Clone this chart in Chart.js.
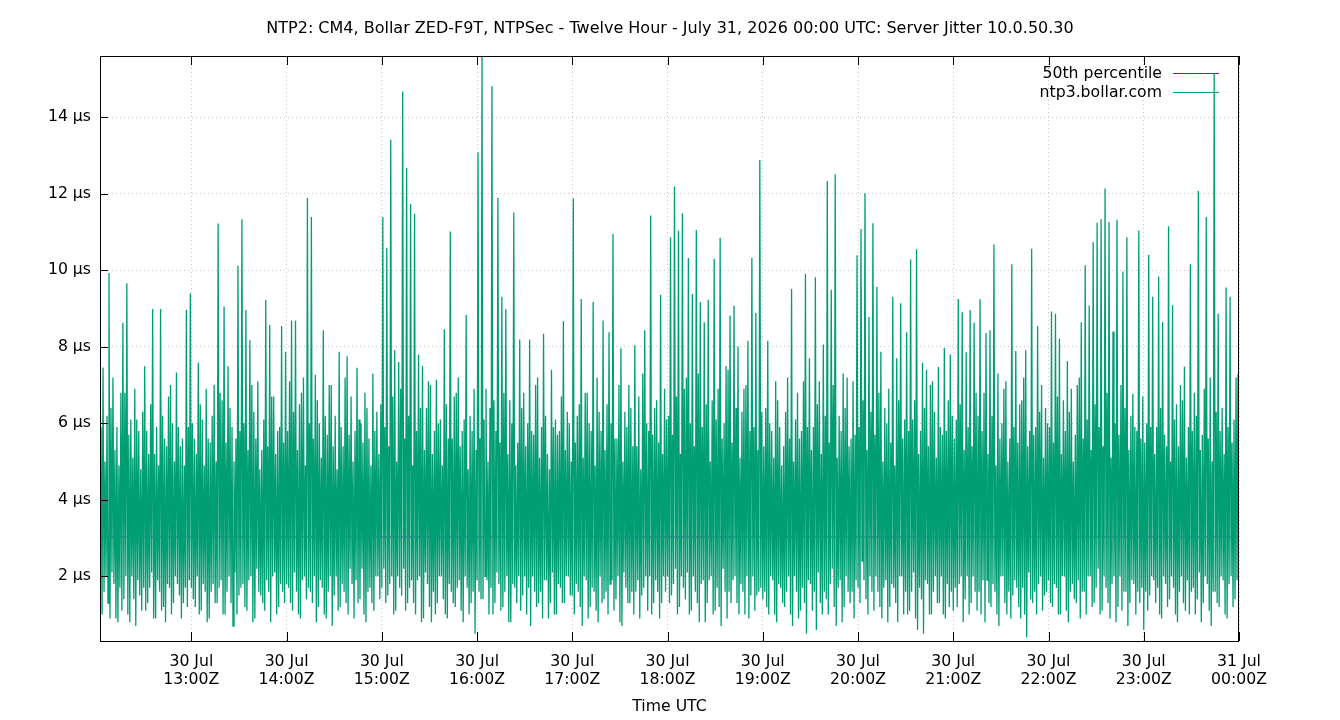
<!DOCTYPE html>
<html>
<head>
<meta charset="utf-8">
<script src="https://cdn.jsdelivr.net/npm/chart.js@4/dist/chart.umd.min.js"></script>
<style>
html,body{margin:0;padding:0;background:#fff;}
#wrap{width:1340px;height:720px;}
</style>
</head>
<body>
<div id="wrap"><canvas id="c" width="1340" height="720"></canvas></div>
<script>
const chartTitle = 'NTP2: CM4, Bollar ZED-F9T, NTPSec - Twelve Hour - July 31, 2026 00:00 UTC: Server Jitter 10.0.50.30';
const seriesLabel = 'ntp3.bollar.com';
const medianLabel = '50th percentile';
const medianJitter = 3.03;            // µs
const xAxisTitle = 'Time UTC';

// jitter samples (µs), one array per UTC hour, 96 samples per hour
const samplesPerHour = 96;
const hourStarts = [12, 13, 14, 15, 16, 17, 18, 19, 20, 21, 22, 23];
const h12 = [2.3,5.7,1.5,6.0,1.3,5.9,1.0,7.46,1.6,5.0,2.0,6.2,1.3,9.93,0.9,6.4,2.1,7.2,1.8,5.3,0.9,5.9,0.8,4.9,1.7,6.8,1.1,8.63,1.4,6.8,2.0,9.66,1.0,5.7,0.8,6.1,2.0,5.1,1.4,6.9,0.7,6.1,1.9,5.8,1.5,4.8,1.1,6.3,1.7,7.49,1.1,5.8,1.3,5.2,1.7,6.5,2.1,8.99,0.9,5.2,0.9,5.9,1.9,4.9,1.6,8.99,1.1,6.2,1.2,5.6,0.8,5.4,1.8,6.7,1.7,7.0,1.0,6.0,1.3,5.0,2.0,7.33,1.8,5.9,1.5,5.4,0.9,5.6,1.3,4.9,1.7,8.96,1.2,5.9,1.9,9.39];
const h13 = [1.7,6.0,1.4,5.6,1.2,5.2,2.0,7.58,1.0,6.5,1.1,6.1,1.8,4.9,1.6,6.9,0.8,5.6,0.9,5.5,1.6,6.2,1.8,7.01,1.3,5.0,1.3,11.22,1.7,6.8,1.9,6.6,1.0,9.05,1.0,5.5,1.6,7.49,2.0,6.4,1.3,5.9,0.7,5.0,2.1,5.6,1.0,10.12,1.5,5.8,1.7,11.33,1.8,6.0,1.2,8.96,1.1,5.3,1.9,8.17,2.0,7.0,0.8,6.3,0.9,5.6,2.2,7.1,1.6,4.8,1.5,5.3,1.3,6.1,1.1,9.22,1.9,5.4,1.6,8.57,0.8,6.7,2.0,6.7,2.1,5.2,1.0,5.8,1.2,5.9,1.8,8.54,1.6,5.5,1.3,7.87];
const h14 = [1.8,5.8,1.7,7.1,1.3,8.69,1.1,6.3,2.1,8.69,1.6,5.3,1.0,6.5,0.9,6.8,1.9,7.2,2.0,4.9,1.4,11.89,1.7,6.0,1.6,11.39,1.3,5.6,2.0,7.27,0.8,6.6,1.2,6.0,1.9,5.1,1.7,8.43,1.0,6.2,0.9,5.7,1.6,7.0,2.0,7.0,0.7,5.4,1.5,6.2,2.0,4.8,1.1,7.87,1.2,5.9,1.8,5.4,1.6,7.2,1.3,7.75,1.0,5.7,2.2,6.7,1.8,5.0,0.9,5.8,1.9,7.45,1.3,6.1,1.4,6.0,2.2,5.5,1.0,6.8,0.8,6.4,1.6,5.6,1.7,4.9,1.3,7.3,1.1,5.8,2.0,6.3,2.0,5.2,1.4,6.5];
const h15 = [1.7,11.39,2.2,5.9,1.3,10.59,1.5,5.4,1.8,13.41,2.0,6.7,1.0,7.91,1.1,5.0,2.0,7.6,1.7,6.9,1.5,14.67,2.2,5.6,1.1,12.67,1.3,6.2,1.7,11.73,1.9,4.9,1.3,11.48,1.0,5.8,1.9,7.79,2.0,6.4,0.8,7.5,0.9,5.3,2.1,6.4,1.8,7.1,1.2,7.0,0.8,5.2,1.6,5.8,1.0,7.14,1.3,6.0,2.0,6.1,2.0,4.9,1.4,8.46,1.0,6.5,0.9,5.6,1.8,11.01,1.6,5.6,1.3,6.7,1.2,6.8,1.7,7.2,1.9,5.4,1.1,5.8,0.8,6.1,2.0,8.83,1.7,4.8,1.0,6.2,1.3,5.8,1.6,6.9,0.5,5.3];
const h16 = [1.9,13.08,1.6,5.6,1.4,15.6,1.4,6.1,2.0,6.9,1.9,5.0,1.0,6.4,1.7,14.81,1.0,6.6,1.3,5.8,2.1,11.89,1.8,5.5,1.1,9.31,1.2,6.8,1.6,8.99,2.0,5.2,0.8,6.6,0.8,6.0,1.8,11.51,1.7,4.9,1.3,5.5,2.0,8.19,1.1,6.4,1.5,6.8,2.0,5.4,1.0,6.0,1.7,8.19,0.7,5.8,2.0,5.7,1.6,7.0,1.2,7.2,1.3,5.1,1.6,5.9,0.9,8.34,1.9,6.2,1.9,5.2,0.9,4.8,1.3,7.4,2.1,5.9,1.0,6.1,1.0,5.7,1.8,5.8,1.7,6.7,1.3,8.67,1.3,5.3,2.0,6.3,2.0,6.0,1.5,5.0];
const h17 = [1.5,11.88,1.0,5.5,1.8,6.2,1.6,6.5,1.2,9.25,0.7,5.1,2.0,6.8,1.9,6.8,0.9,6.0,1.2,5.8,1.7,9.17,1.6,4.9,1.1,7.2,0.8,6.3,2.0,5.8,1.3,8.69,1.4,5.3,1.6,6.5,1.0,8.38,1.8,6.0,1.9,10.95,1.1,5.6,1.4,5.6,2.0,7.0,0.8,7.96,0.7,5.0,2.1,6.3,1.7,5.9,1.3,7.0,1.3,6.4,1.6,5.4,1.0,8.04,1.6,5.4,1.9,6.7,0.9,4.8,1.5,7.3,1.7,8.43,2.0,6.0,1.1,5.8,2.0,11.43,1.0,5.7,1.3,6.4,1.9,6.6,1.6,5.5,0.9,9.35,1.3,5.2,2.0,6.9,1.6,6.1];
const h18 = [2.0,6.2,1.3,10.86,1.5,5.7,1.8,12.19,2.2,6.7,1.0,11.03,1.2,5.2,2.0,11.49,1.7,6.9,1.4,7.2,2.1,10.32,1.0,6.0,1.1,9.38,2.0,5.4,1.6,11.05,1.3,7.3,0.8,9.17,1.8,5.9,1.9,8.64,0.8,6.5,1.3,9.23,1.9,5.0,2.0,6.6,1.0,10.3,1.1,6.1,1.7,6.9,1.2,10.85,0.7,5.6,2.2,6.0,1.6,7.5,0.9,7.4,1.6,8.82,1.3,5.5,1.9,9.07,2.0,6.4,1.3,8.01,1.0,5.1,1.8,6.3,1.6,6.9,1.0,7.0,2.0,8.16,0.9,5.8,1.5,10.33,2.0,5.9,1.1,8.88,1.5,5.3,1.6,12.88,1.7,6.3];
const h19 = [1.4,5.4,1.6,6.4,1.2,8.16,1.0,6.0,2.0,5.8,1.9,5.1,1.0,7.1,0.8,6.6,1.8,5.9,1.7,4.9,1.3,5.4,1.2,6.3,1.6,7.2,2.0,5.6,1.0,9.51,0.7,5.0,2.0,6.1,1.6,6.8,0.9,5.6,1.1,5.8,1.7,7.1,1.3,9.91,0.5,5.9,1.9,7.7,1.8,5.3,1.1,5.9,1.6,9.82,0.6,6.5,2.1,7.1,1.3,5.2,1.0,8.06,1.6,6.2,1.4,12.33,1.0,5.5,1.8,9.49,2.2,7.0,1.2,12.51,0.7,5.1,1.7,6.2,1.9,5.8,0.8,7.3,1.2,6.4,2.0,7.2,1.6,5.4,1.3,5.6,1.6,7.1,0.9,5.7,1.9,10.39];
const h20 = [1.7,5.9,1.3,11.08,2.4,6.6,1.9,12.01,1.4,5.3,1.0,8.78,2.0,6.3,1.6,11.23,1.1,5.7,2.0,9.56,1.6,6.8,1.2,7.87,0.9,5.0,1.7,6.4,1.9,6.0,0.8,6.9,1.2,5.5,1.8,9.31,1.7,4.9,1.3,7.7,0.8,6.6,2.0,9.14,2.0,5.6,1.0,6.1,1.6,8.38,1.0,5.8,1.1,10.28,1.6,6.1,2.1,6.6,0.9,10.55,0.6,5.2,1.7,5.8,1.4,7.58,0.5,6.4,1.9,7.4,1.8,5.4,1.0,7.0,1.0,7.1,1.6,6.3,2.0,5.1,1.3,7.47,1.3,5.9,2.0,5.7,1.0,7.97,0.9,5.8,1.8,6.6,1.2,7.8,1.6,6.2];
const h21 = [1.1,5.6,1.7,6.1,1.2,9.25,1.8,6.5,2.0,8.9,0.8,5.3,1.4,7.86,2.0,5.9,1.0,8.96,1.3,5.4,2.0,8.63,1.6,6.8,1.1,6.2,1.6,9.24,1.0,5.8,1.9,6.8,0.8,8.36,1.9,5.2,1.3,8.43,1.2,6.2,1.8,10.67,1.6,4.9,1.0,7.3,0.7,5.6,2.0,6.0,2.0,6.9,1.3,7.1,1.0,5.0,1.6,5.6,0.9,10.16,1.5,5.9,1.9,7.89,1.7,5.5,1.2,6.5,0.9,6.6,1.7,7.2,1.0,7.91,0.4,5.4,2.1,5.8,1.4,10.56,1.3,5.7,1.6,5.9,1.0,8.54,1.8,6.3,2.0,7.0,1.1,5.1,1.5,6.4,1.6,6.0];
const h22 = [1.9,5.9,1.3,8.92,1.2,5.5,1.8,8.86,1.7,6.7,1.0,8.21,1.0,5.2,2.0,6.6,2.0,5.8,1.1,7.63,0.8,6.3,1.6,6.9,1.8,5.0,1.4,5.7,1.3,7.0,1.9,7.2,0.9,8.64,1.6,5.6,1.6,10.13,1.0,6.1,2.0,9.08,2.0,5.3,1.2,10.73,1.3,6.5,1.7,11.24,2.2,5.9,1.0,11.33,1.1,5.4,2.0,12.14,1.7,6.8,1.3,11.26,0.9,5.1,1.8,8.4,2.0,6.0,0.8,11.32,1.2,5.7,2.0,7.0,1.1,9.97,1.6,6.4,1.6,10.86,0.7,5.3,1.3,6.2,1.9,6.77,1.8,5.9,1.0,5.8,1.6,11.04,1.3,5.6,1.7,6.7];
const h23 = [0.6,5.5,1.6,6.0,1.1,10.4,1.5,5.9,2.0,9.31,1.9,5.2,1.3,5.9,1.7,9.84,1.0,6.4,0.9,8.65,2.0,5.7,1.8,5.4,1.2,11.15,1.4,5.0,2.0,9.09,1.7,6.1,1.0,6.5,0.8,5.4,1.6,7.0,2.0,6.6,1.3,7.48,1.1,5.1,1.9,5.9,1.0,10.16,1.6,5.8,1.7,6.8,1.0,6.2,1.4,12.07,2.1,5.3,0.8,5.7,1.3,6.9,2.0,11.39,1.8,5.6,1.1,7.2,0.7,5.0,1.6,15.15,1.6,6.3,1.3,8.86,1.2,5.8,2.0,6.4,1.9,5.2,1.0,9.55,0.9,5.9,1.8,9.31,2.0,5.5,1.2,6.1,1.4,7.2,1.9,7.28,5.0];
const hourly = [h12, h13, h14, h15, h16, h17, h18, h19, h20, h21, h22, h23];

// axes
const xMinHour = 12.041;  // 12:02.5 UTC
const xMaxHour = 24;
const xTickHours = [13, 14, 15, 16, 17, 18, 19, 20, 21, 22, 23, 24];
const xTickDates = ['30 Jul','30 Jul','30 Jul','30 Jul','30 Jul','30 Jul','30 Jul','30 Jul','30 Jul','30 Jul','30 Jul','31 Jul'];
const xTickTimes = ['13:00Z','14:00Z','15:00Z','16:00Z','17:00Z','18:00Z','19:00Z','20:00Z','21:00Z','22:00Z','23:00Z','00:00Z'];
const yMin = 0.31, yMax = 15.6;
const yTicks = [2, 4, 6, 8, 10, 12, 14];
const yUnit = ' µs';

// build points from the arrays
const jitterPoints = [];
hourly.forEach((arr, k) => {
  arr.forEach((v, i) => jitterPoints.push({x: hourStarts[k] + i / samplesPerHour, y: v}));
});
const medianPoints = [{x: xMinHour, y: medianJitter}, {x: xMaxHour, y: medianJitter}];

const GREEN = '#009e73', PURPLE = '#9400d3';
const FONT = "'DejaVu Sans', sans-serif";
const FS = 15.7;

Chart.defaults.font.family = FONT;
Chart.defaults.font.size = FS;
Chart.defaults.color = '#000';

const framePlugin = {
  id: 'frame',
  afterDraw(chart) {
    const {ctx} = chart;
    ctx.save();
    ctx.font = '16px ' + FONT;
    ctx.fillStyle = '#000';
    ctx.textAlign = 'center';
    ctx.textBaseline = 'middle';
    ctx.fillText(chartTitle, 670, 29);
    ctx.restore();
  },
  afterDatasetsDraw(chart) {
    const {ctx, chartArea: a, scales: {x, y}} = chart;
    ctx.save();
    ctx.strokeStyle = '#000';
    ctx.lineWidth = 1;
    ctx.beginPath();
    for (const v of yTicks) {
      const py = Math.round(y.getPixelForValue(v)) + 0.5;
      ctx.moveTo(a.left, py); ctx.lineTo(a.left + 8, py);
    }
    for (const h of xTickHours) {
      const px = Math.round(x.getPixelForValue(h)) + 0.5;
      ctx.moveTo(px, a.bottom); ctx.lineTo(px, a.bottom - 9);
      ctx.moveTo(px, a.top); ctx.lineTo(px, a.top + 9);
    }
    ctx.stroke();
    ctx.strokeRect(Math.round(a.left) + 0.5, Math.round(a.top) + 0.5,
                   Math.round(a.right - a.left) - 1, Math.round(a.bottom - a.top));
    // key (legend), gnuplot style: right-aligned text, sample on the right
    ctx.font = FS + 'px ' + FONT;
    ctx.textAlign = 'right';
    ctx.textBaseline = 'middle';
    const ds = chart.data.datasets;
    [1, 0].forEach((di, row) => {
      const yy = Math.round(a.top + 17 + row * 19) + 0.5;
      ctx.fillStyle = '#000';
      ctx.fillText(ds[di].label, a.right - 77, yy);
      ctx.strokeStyle = ds[di].borderColor;
      ctx.lineWidth = 1;
      ctx.beginPath();
      ctx.moveTo(a.right - 66, yy); ctx.lineTo(a.right - 20, yy);
      ctx.stroke();
    });
    ctx.restore();
  }
};

new Chart(document.getElementById('c'), {
  type: 'line',
  data: {
    datasets: [
      {label: seriesLabel, data: jitterPoints, borderColor: GREEN, borderWidth: 1.3,
       pointRadius: 0, tension: 0, order: 0},
      {label: medianLabel, data: medianPoints, borderColor: PURPLE, borderWidth: 1,
       pointRadius: 0, tension: 0, order: 1}
    ]
  },
  options: {
    responsive: false,
    devicePixelRatio: 1,
    animation: false,
    layout: {padding: {left: 0, right: 101, top: 56, bottom: 0}},
    plugins: {
      legend: {display: false},
      tooltip: {enabled: false},
      title: {display: false}
    },
    scales: {
      x: {
        type: 'linear', min: xMinHour, max: xMaxHour,
        afterBuildTicks: s => { s.ticks = xTickHours.map(v => ({value: v})); },
        afterFit: s => { s.height = 79; },
        ticks: {
          autoSkip: false, maxRotation: 0, padding: 12,
          font: {size: FS, lineHeight: 1.15},
          callback: (v) => { const i = xTickHours.indexOf(v); return i < 0 ? '' : [xTickDates[i], xTickTimes[i]]; }
        },
        grid: {color: 'rgba(150,150,150,0.55)', drawTicks: false, tickLength: 0},
        border: {display: false, dash: [1, 3]},
        title: {display: true, text: xAxisTitle, color: '#000', padding: {top: 0, bottom: 4}}
      },
      y: {
        type: 'linear', min: yMin, max: yMax,
        afterBuildTicks: s => { s.ticks = yTicks.map(v => ({value: v})); },
        afterFit: s => { s.width = 100; },
        ticks: {padding: 9, callback: v => v + yUnit},
        grid: {color: 'rgba(150,150,150,0.55)', drawTicks: false, tickLength: 0},
        border: {display: false, dash: [1, 3]}
      }
    }
  },
  plugins: [framePlugin]
});
</script>
</body>
</html>
